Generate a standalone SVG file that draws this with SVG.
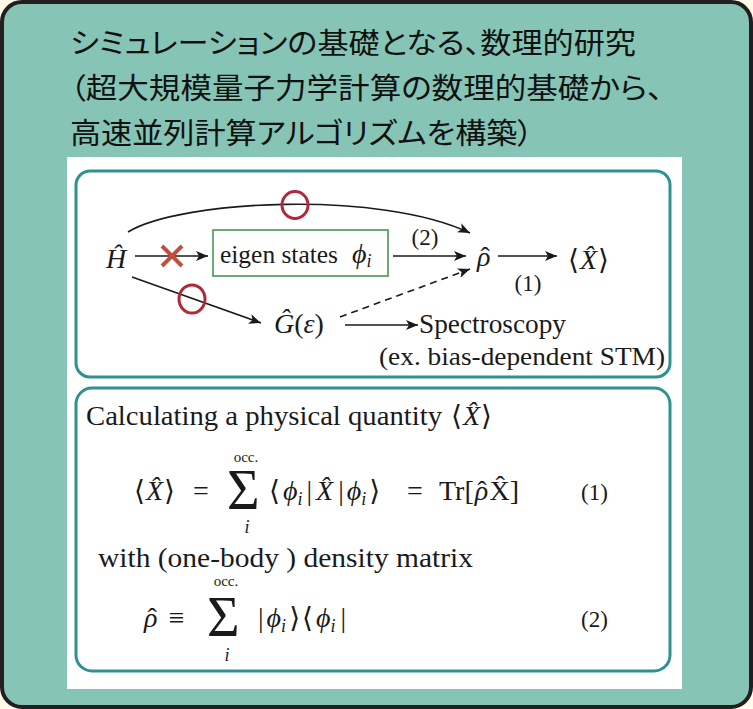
<svg xmlns="http://www.w3.org/2000/svg" width="753" height="709" viewBox="0 0 753 709">
<style>
.jp{font-family:"Noto Sans CJK JP","Noto Sans",sans-serif;font-size:29px;fill:#111;font-feature-settings:"palt"}
.m{font-family:"Liberation Serif","DejaVu Serif",serif;fill:#1a1a1a}
.it{font-style:italic}
.up{font-style:normal}
.ln{stroke:#1a1a1a;stroke-width:1.6;fill:none}
.ok{stroke:#b0283a;stroke-width:3;fill:none}
.box{fill:none;stroke:#2f9191;stroke-width:3}
</style>
<defs>
<marker id="ah" markerUnits="userSpaceOnUse" markerWidth="13" markerHeight="10" refX="12" refY="5" orient="auto">
<path d="M0,0 L12,5 L0,10 L3,5 z" fill="#1a1a1a"/>
</marker>
</defs>
<rect x="0" y="0" width="753" height="709" fill="#fffbe8"/>
<rect x="2" y="2" width="749" height="705" rx="20" fill="#86c5b5" stroke="#231f20" stroke-width="4"/>
<g id="title">
<text class="jp" x="70" y="54" textLength="566" lengthAdjust="spacingAndGlyphs">シミュレーションの基礎となる、数理的研究</text>
<text class="jp" x="70" y="99" textLength="593" lengthAdjust="spacingAndGlyphs">（超大規模量子力学計算の数理的基礎から、</text>
<text class="jp" x="70" y="144" textLength="463" lengthAdjust="spacingAndGlyphs">高速並列計算アルゴリズムを構築）</text>
</g>
<rect x="67" y="157" width="615" height="532" fill="#ffffff"/>
<rect id="topPanel" class="box" x="76" y="171" width="594" height="206" rx="14"/>
<rect id="bottomPanel" class="box" x="76" y="388" width="594" height="283" rx="16"/>

<g id="connectors">
<line class="ln" x1="135" y1="256" x2="208" y2="256" marker-end="url(#ah)"/>
<line class="ln" x1="393" y1="256" x2="466" y2="256" marker-end="url(#ah)"/>
<line class="ln" x1="498" y1="256" x2="557" y2="256" marker-end="url(#ah)"/>
<path class="ln" d="M128,232 C180,200 380,190 470,233" marker-end="url(#ah)"/>
<line class="ln" x1="132" y1="277" x2="261" y2="323" marker-end="url(#ah)"/>
<line class="ln" x1="340" y1="317" x2="470" y2="269" stroke-dasharray="7,5" marker-end="url(#ah)"/>
<line class="ln" x1="345" y1="325" x2="418" y2="325" marker-end="url(#ah)"/>
<text class="m" x="425" y="245" font-size="23" text-anchor="middle">(2)</text>
<text class="m" x="528" y="291" font-size="23" text-anchor="middle">(1)</text>
<g id="cross" stroke="#c0503c" stroke-width="4" stroke-linecap="butt">
<line x1="162" y1="246" x2="182" y2="266"/>
<line x1="182" y1="246" x2="162" y2="266"/>
</g>
<ellipse class="ok" cx="295" cy="205" rx="13" ry="13.5"/>
<ellipse class="ok" cx="192" cy="299" rx="13" ry="14"/>
</g>

<g id="H">
<text class="m it" x="106" y="268" font-size="28">Ĥ</text>
</g>
<g id="eigen">
<rect x="213" y="230" width="175" height="46" fill="none" stroke="#3e8e4a" stroke-width="1.5"/>
<text class="m" x="220" y="263" font-size="26" textLength="118" lengthAdjust="spacingAndGlyphs">eigen states</text>
<text class="m it" x="352" y="263" font-size="28">ϕ<tspan font-size="18" dy="4">i</tspan></text>
</g>
<g id="rho">
<text class="m it" x="477" y="266" font-size="28">ρ<tspan class="up" dx="-10">ˆ</tspan></text>
</g>
<g id="X">
<text class="m" x="568" y="269" font-size="28">⟨<tspan class="it" dx="1">X̂</tspan><tspan dx="1">⟩</tspan></text>
</g>
<g id="G">
<text class="m" x="274" y="333" font-size="28"><tspan class="it">Ĝ</tspan>(<tspan class="it">ε</tspan>)</text>
</g>
<g id="spectro">
<text class="m" x="419" y="333" font-size="27" textLength="147" lengthAdjust="spacingAndGlyphs">Spectroscopy</text>
<text class="m" x="379" y="365" font-size="26" textLength="286" lengthAdjust="spacingAndGlyphs">(ex. bias-dependent STM)</text>
</g>

<g id="equations">
<text class="m" x="86" y="425" font-size="27" textLength="356" lengthAdjust="spacingAndGlyphs">Calculating a physical quantity</text>
<text class="m" x="451" y="425" font-size="28">⟨<tspan class="it" dx="1">X̂</tspan><tspan dx="1">⟩</tspan></text>

<text class="m" x="134" y="500" font-size="28">⟨<tspan class="it" dx="1">X̂</tspan><tspan dx="1">⟩</tspan></text>
<text class="m" x="193" y="500" font-size="28">=</text>
<text class="m" x="227" y="509" font-size="56">Σ</text>
<text class="m" x="246" y="462" font-size="15" text-anchor="middle">occ.</text>
<text class="m it" x="247" y="533" font-size="18" text-anchor="middle">i</text>
<text class="m" x="269" y="500" font-size="28">⟨<tspan class="it" dx="3">ϕ</tspan><tspan class="it" font-size="18" dy="5">i</tspan><tspan dy="-5" dx="4">|</tspan><tspan class="it" dx="4">X̂</tspan><tspan dx="5">|</tspan><tspan class="it" dx="3">ϕ</tspan><tspan class="it" font-size="18" dy="5">i</tspan><tspan dy="-5" dx="3">⟩</tspan></text>
<text class="m" x="407" y="500" font-size="28">=</text>
<text class="m" x="439" y="500" font-size="28">Tr[<tspan class="it" dx="1">ρ</tspan><tspan dx="-11">ˆ</tspan><tspan dx="3">X̂</tspan>]</text>
<text class="m" x="581" y="500" font-size="23">(1)</text>

<text class="m" x="98" y="567" font-size="27" textLength="375" lengthAdjust="spacingAndGlyphs">with  (one-body ) density matrix</text>

<text class="m" x="144" y="627" font-size="28"><tspan class="it">ρ</tspan><tspan dx="-10">ˆ</tspan><tspan dx="12">≡</tspan></text>
<text class="m" x="207" y="636" font-size="56">Σ</text>
<text class="m" x="226" y="586" font-size="15" text-anchor="middle">occ.</text>
<text class="m it" x="227" y="661" font-size="18" text-anchor="middle">i</text>
<text class="m" x="258" y="627" font-size="28">|<tspan class="it" dx="3">ϕ</tspan><tspan class="it" font-size="18" dy="5">i</tspan><tspan dy="-5" dx="3">⟩</tspan><tspan dx="2">⟨</tspan><tspan class="it" dx="3">ϕ</tspan><tspan class="it" font-size="18" dy="5">i</tspan><tspan dy="-5" dx="5">|</tspan></text>
<text class="m" x="581" y="627" font-size="23">(2)</text>
</g>
</svg>
